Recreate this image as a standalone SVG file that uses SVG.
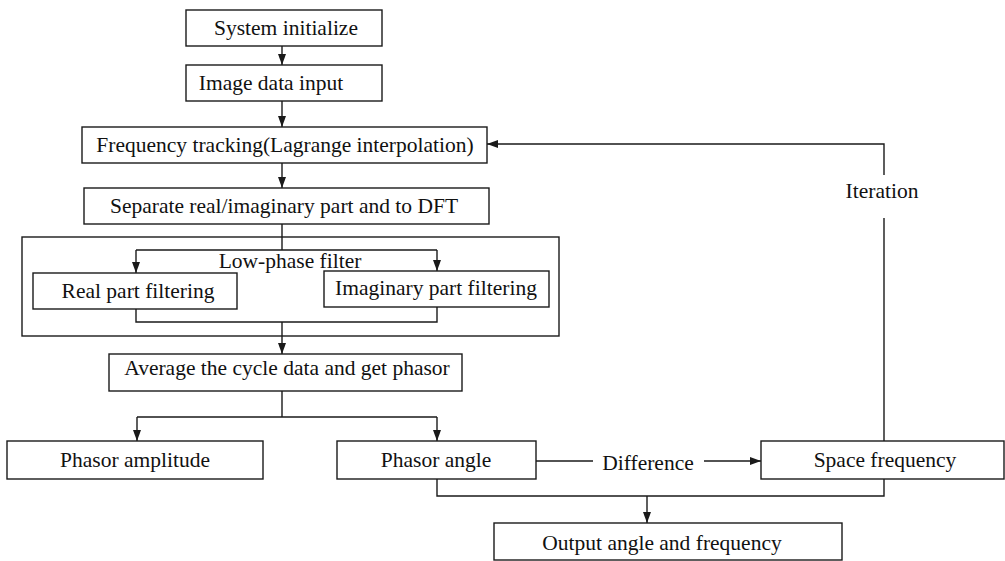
<svg xmlns="http://www.w3.org/2000/svg" width="1005" height="561" viewBox="0 0 1005 561">
<style>
.box{fill:#fff;stroke:#1a1a1a;stroke-width:1.4}
.t{font-family:"Liberation Serif","Times New Roman",serif;font-size:21.5px;fill:#111;text-anchor:middle}
.c{fill:none;stroke:#1a1a1a;stroke-width:1.4}
</style>
<defs>
<marker id="ah" markerUnits="userSpaceOnUse" markerWidth="11" markerHeight="8" refX="11" refY="4" orient="auto">
<path d="M0,0 L11,4 L0,8 z" fill="#1a1a1a"/>
</marker>
</defs>
<rect width="1005" height="561" fill="#fff"/>
<g id="filter-group">
<rect class="box" x="22" y="237" width="537" height="99"/>
<text class="t" x="290" y="268">Low-phase filter</text>
</g>
<g id="connectors">
<path class="c" d="M282,46 V65" marker-end="url(#ah)"/>
<path class="c" d="M282,101 V127" marker-end="url(#ah)"/>
<path class="c" d="M282,163 V188" marker-end="url(#ah)"/>
<path class="c" d="M282,224 V250 M136,250 H437"/>
<path class="c" d="M136,250 V273" marker-end="url(#ah)"/>
<path class="c" d="M437,250 V271" marker-end="url(#ah)"/>
<path class="c" d="M136,309 V322 H437 V307"/>
<path class="c" d="M282,322 V354" marker-end="url(#ah)"/>
<path class="c" d="M282,391 V417 M137,417 H437"/>
<path class="c" d="M137,417 V441" marker-end="url(#ah)"/>
<path class="c" d="M437,417 V441" marker-end="url(#ah)"/>
<path class="c" d="M536,461 H593"/>
<path class="c" d="M704,461 H761" marker-end="url(#ah)"/>
<path class="c" d="M437,479 V496 H884 V479"/>
<path class="c" d="M647,496 V523" marker-end="url(#ah)"/>
<path class="c" d="M884,441 V218 M884,175 V144 H487" marker-end="url(#ah)"/>
<text class="t" x="648" y="470">Difference</text>
<text class="t" x="882" y="198">Iteration</text>
</g>
<g id="n1"><rect class="box" x="186" y="10" width="196" height="36"/><text class="t" x="286" y="35">System initialize</text></g>
<g id="n2"><rect class="box" x="186" y="65" width="196" height="36"/><text class="t" x="271" y="90">Image data input</text></g>
<g id="n3"><rect class="box" x="82" y="127" width="405" height="36"/><text class="t" x="285" y="152">Frequency tracking(Lagrange interpolation)</text></g>
<g id="n4"><rect class="box" x="84" y="188" width="405" height="36"/><text class="t" x="284" y="213">Separate real/imaginary part and to DFT</text></g>
<g id="n5"><rect class="box" x="33" y="273" width="204" height="36"/><text class="t" x="138" y="298">Real part filtering</text></g>
<g id="n6"><rect class="box" x="324" y="271" width="225" height="36"/><text class="t" x="436" y="295">Imaginary part filtering</text></g>
<g id="n7"><rect class="box" x="109" y="354" width="353" height="37"/><text class="t" x="287" y="375">Average the cycle data and get phasor</text></g>
<g id="n8"><rect class="box" x="7" y="441" width="256" height="38"/><text class="t" x="135" y="467">Phasor amplitude</text></g>
<g id="n9"><rect class="box" x="337" y="441" width="199" height="38"/><text class="t" x="436" y="467">Phasor angle</text></g>
<g id="n10"><rect class="box" x="761" y="441" width="243" height="38"/><text class="t" x="885" y="467">Space frequency</text></g>
<g id="n11"><rect class="box" x="494" y="523" width="348" height="37"/><text class="t" x="662" y="550">Output angle and frequency</text></g>
</svg>
